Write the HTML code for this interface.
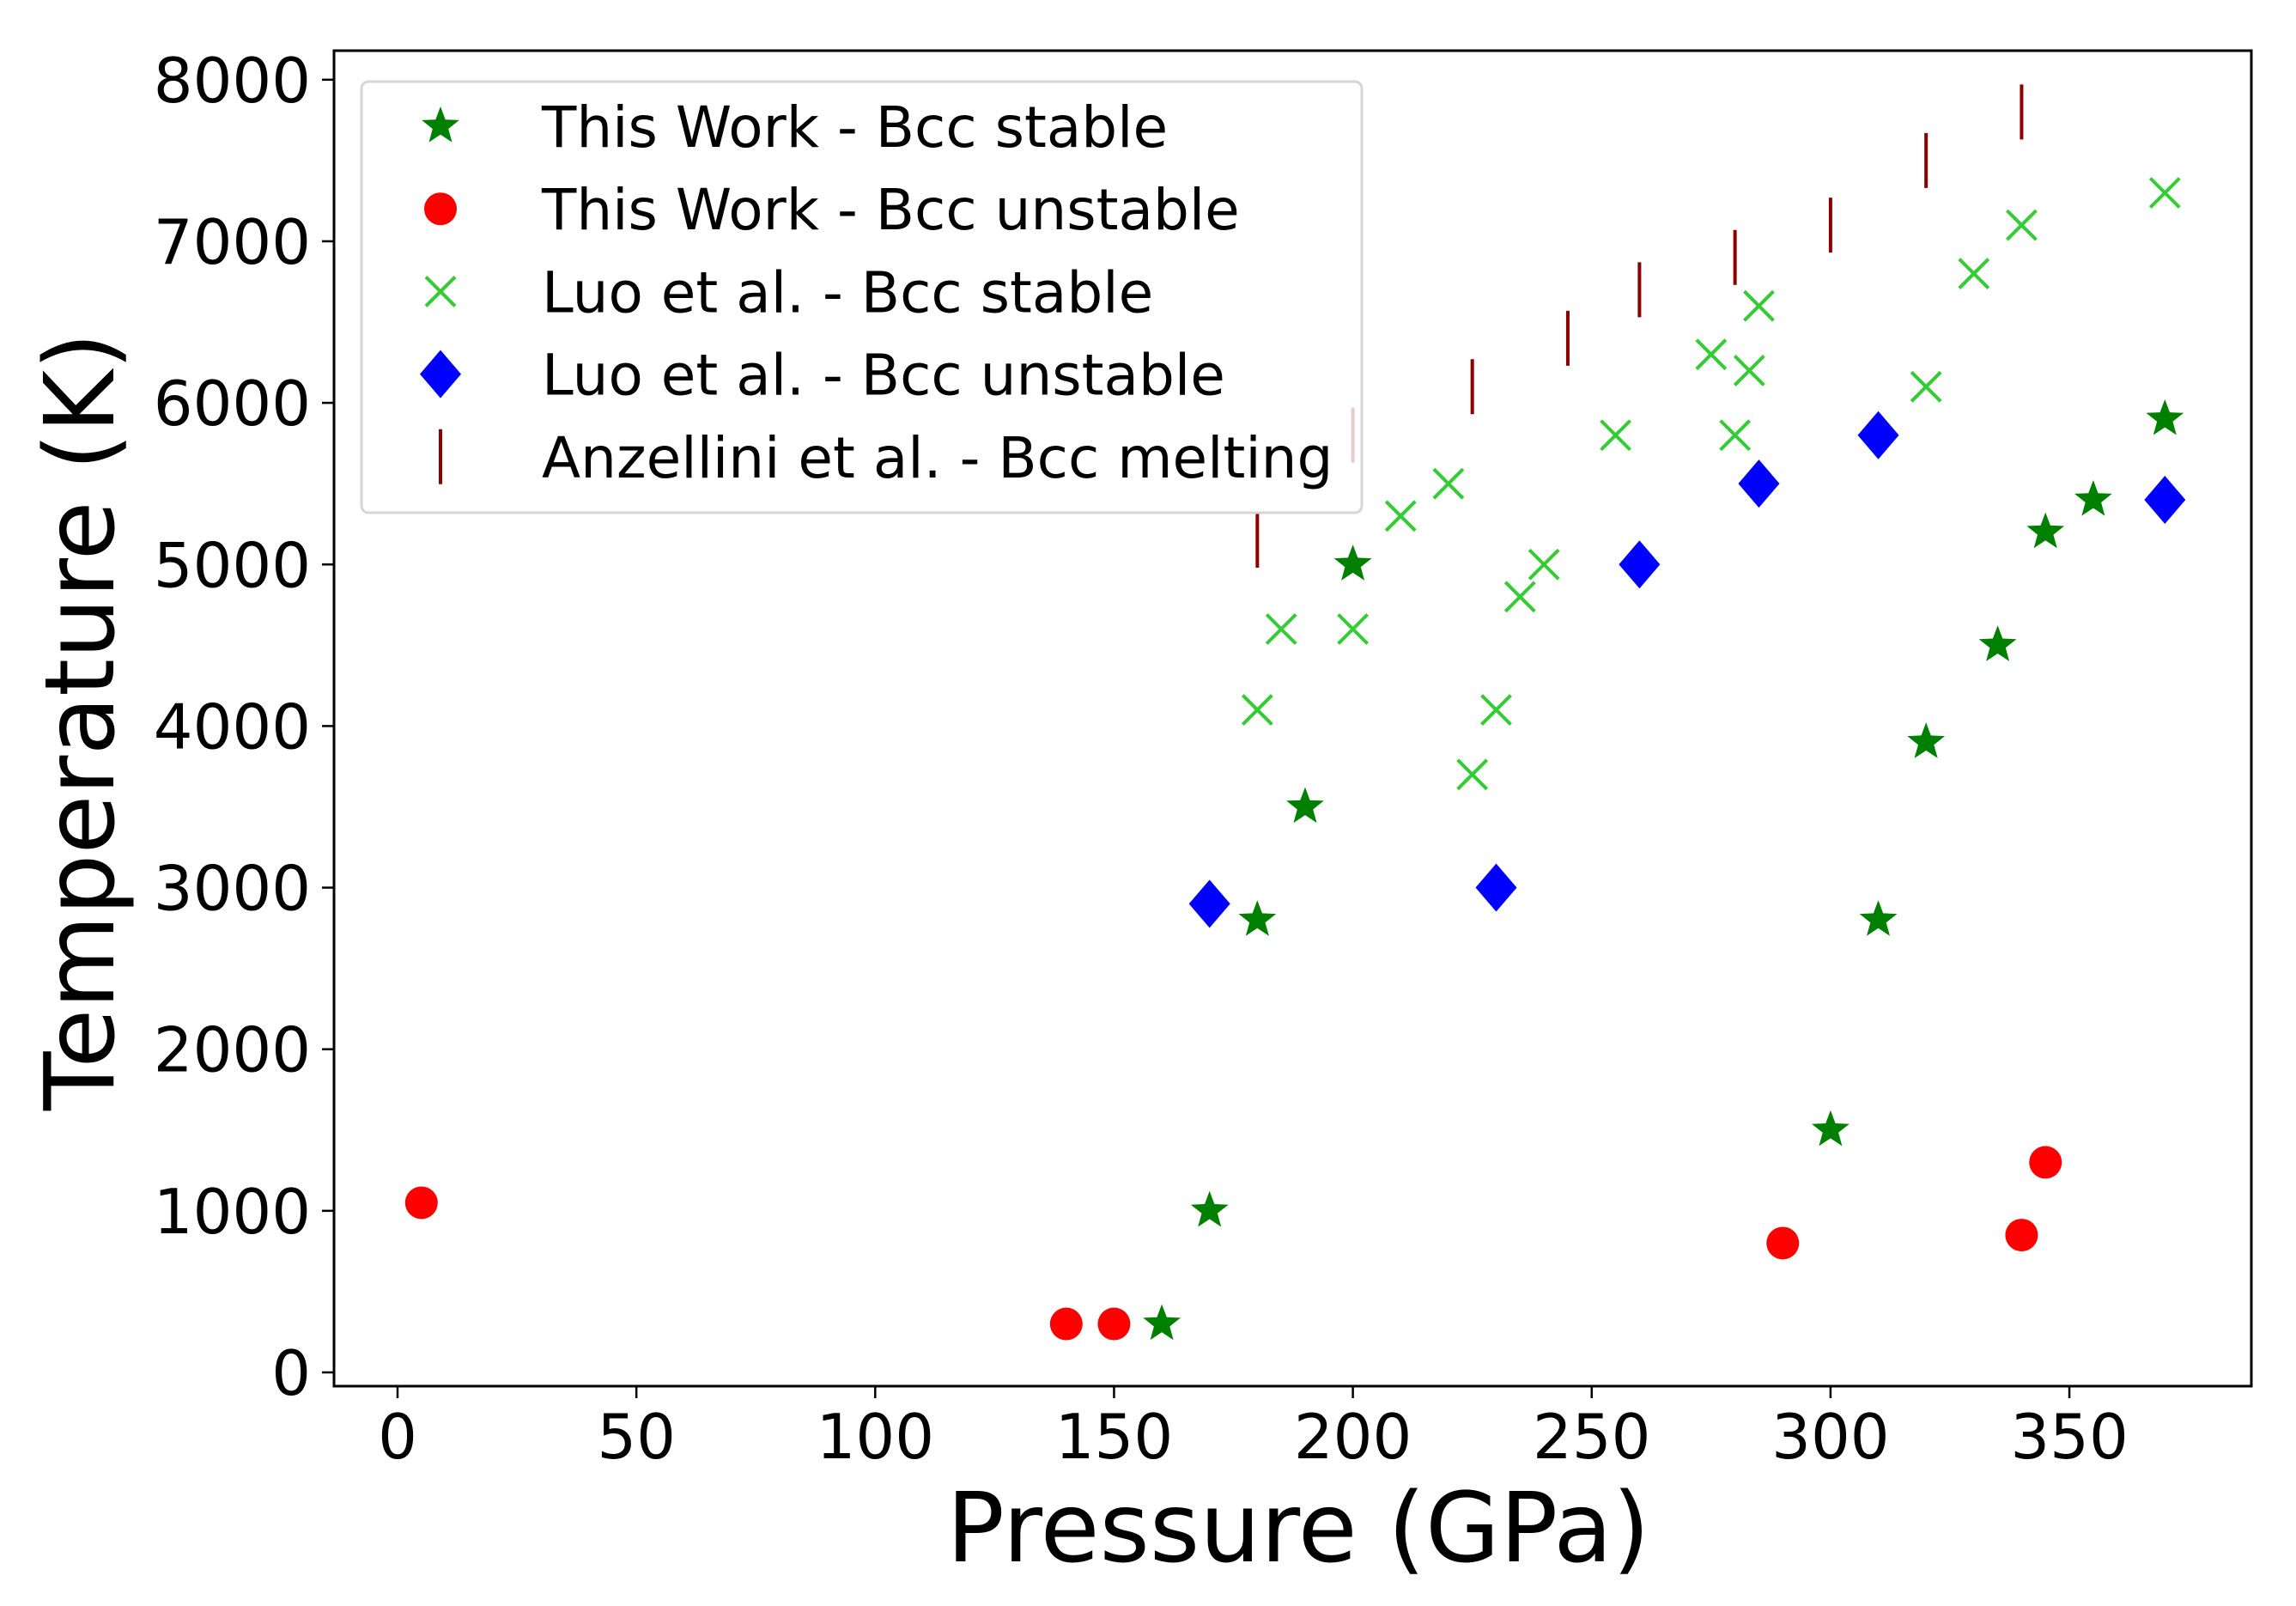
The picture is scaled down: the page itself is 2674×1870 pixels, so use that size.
<!DOCTYPE html>
<html><head><meta charset="utf-8"><style>
html,body{margin:0;padding:0;background:#fff;}
svg{display:block;font-family:"DejaVu Sans","Liberation Sans",sans-serif;}
</style></head><body>
<svg id="chart" width="2674" height="1870" viewBox="0 0 2674 1870" xmlns="http://www.w3.org/2000/svg">
<rect width="2674" height="1870" fill="#fff"/>
<g id="marks"></g>
<rect x="389" y="59" width="2233" height="1555" fill="none" stroke="#000" stroke-width="3"/>
<g id="axes"></g>
<text x="1512" y="1818" font-size="112" text-anchor="middle">Pressure (GPa)</text>
<text transform="translate(132,840) rotate(-90)" font-size="112" text-anchor="middle">Temperature (K)</text>
<g id="legend"></g>
</svg>
<script>
const starP=[160,170,180,190,200,300,310,320,335,345,355,370];
const starT=[300,1000,2800,3500,5000,1500,2800,3900,4500,5200,5400,5900];
const circP=[5,140,150,290,340,345];
const circT=[1050,300,300,800,850,1300];
const xP=[180,185,200,210,220,225,230,235,240,255,275,280,283,285,320,330,340,370];
const xT=[4100,4600,4600,5300,5500,3700,4100,4800,5000,5800,6300,5800,6200,6600,6100,6800,7100,7300];
const dP=[170,230,260,285,310,370];
const dT=[2900,3000,5000,5500,5800,5400];
const mP=[180,200,225,245,260,280,300,320,340];
const mT=[5150,5800,6100,6400,6700,6900,7100,7500,7800];
const xTicks=[0,50,100,150,200,250,300,350];
const yTicks=[0,1000,2000,3000,4000,5000,6000,7000,8000];
const legendLabels=["This Work - Bcc stable","This Work - Bcc unstable","Luo et al. - Bcc stable","Luo et al. - Bcc unstable","Anzellini et al. - Bcc melting"];

const NS="http://www.w3.org/2000/svg";
function X(p){return 463+p*5.563;}
function Y(t){return 1598-t*0.18815;}
function mk(tag,attrs,parent){const e=document.createElementNS(NS,tag);for(const k in attrs)e.setAttribute(k,attrs[k]);parent.appendChild(e);return e;}
function starPts(cx,cy,r){let s="";for(let i=0;i<10;i++){const a=-Math.PI/2+i*Math.PI/5;const rr=i%2?r*0.42:r;s+=(cx+rr*Math.cos(a)).toFixed(1)+","+(cy+rr*Math.sin(a)).toFixed(1)+" ";}return s;}
function drawStar(g,cx,cy){const e=mk('polygon',{points:starPts(cx,cy,23),fill:'#008000'},g);return e;}
function drawCirc(g,cx,cy){const e=mk('circle',{cx:cx,cy:cy,r:19,fill:'#ff0000'},g);return e;}
function drawX(g,cx,cy){const h=17;const e=mk('path',{d:`M${cx-h},${cy-h}L${cx+h},${cy+h}M${cx-h},${cy+h}L${cx+h},${cy-h}`,stroke:'#32cd32','stroke-width':4,fill:'none'},g);return e;}
function drawD(g,cx,cy){const e=mk('polygon',{points:`${cx},${cy-28} ${cx+24},${cy} ${cx},${cy+28} ${cx-24},${cy}`,fill:'#0000ff'},g);return e;}
function drawBar(g,cx,cy){const e=mk('line',{x1:cx,x2:cx,y1:cy-32,y2:cy+32,stroke:'#8b0000','stroke-width':4},g);return e;}

const marks=document.getElementById('marks');
mP.forEach((p,i)=>drawBar(marks,X(p),Y(mT[i])));
xP.forEach((p,i)=>drawX(marks,X(p),Y(xT[i])));
dP.forEach((p,i)=>drawD(marks,X(p),Y(dT[i])));
circP.forEach((p,i)=>drawCirc(marks,X(p),Y(circT[i])));
starP.forEach((p,i)=>drawStar(marks,X(p),Y(starT[i])));

const axes=document.getElementById('axes');
xTicks.forEach(v=>{
  const t=mk('line',{x1:X(v),x2:X(v),y1:1614,y2:1628,stroke:'#000','stroke-width':2.5},axes);
  
  
  const l=mk('text',{x:X(v),y:1698,'font-size':72,'text-anchor':'middle'},axes);
  l.textContent=v;
  
  
});
yTicks.forEach(v=>{
  const t=mk('line',{x1:375,x2:389,y1:Y(v),y2:Y(v),stroke:'#000','stroke-width':2.5},axes);
  
  
  const l=mk('text',{x:362,y:Y(v)+26,'font-size':72,'text-anchor':'end'},axes);
  l.textContent=v;
  
  
});

const lg=document.getElementById('legend');
const box=mk('rect',{x:421,y:95,width:1165,height:502,rx:8,fill:'#fff','fill-opacity':0.8,stroke:'#d6d6d6','stroke-width':3},lg);


const drawers=[drawStar,drawCirc,drawX,drawD,drawBar];
legendLabels.forEach((lab,i)=>{
  const cy=147+i*96.2;
  drawers[i](lg,513,cy);
  const t=mk('text',{x:631,y:cy+24,'font-size':66},lg);
  t.textContent=lab;
  
  
});
</script>
</body></html>
